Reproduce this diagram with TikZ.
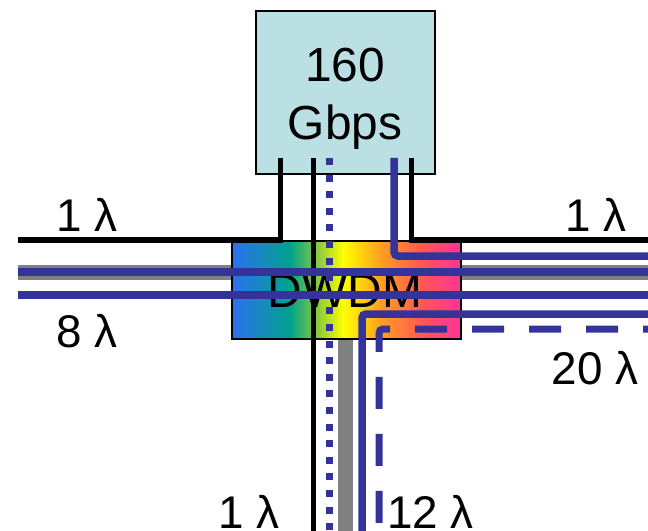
\documentclass[tikz,border=0pt]{standalone}
\usepackage{fontspec}
\setmainfont{Liberation Sans}
\definecolor{fblue}{HTML}{333399}
\definecolor{fgray}{HTML}{808080}
\definecolor{boxcyan}{HTML}{BBE0E3}
\definecolor{g1}{HTML}{2E6FF2}
\definecolor{g2}{HTML}{00A38C}
\definecolor{g3}{HTML}{8CCB3C}
\definecolor{g4}{HTML}{FFFF00}
\definecolor{g5}{HTML}{FFA020}
\definecolor{g6}{HTML}{FF5A50}
\definecolor{g7}{HTML}{FF3399}
\begin{document}
\begin{tikzpicture}[x=1bp,y=-1bp,
  blk/.style={line width=5bp, black},
  bl/.style={line width=7.5bp, fblue},
  gr/.style={line width=15bp, fgray},
  dotl/.style={line width=7bp, fblue, dash pattern=on 7bp off 9.6bp},
  dashl/.style={line width=7bp, fblue, dash pattern=on 32bp off 25bp, dash phase=27bp},
  lbl/.style={font=\fontsize{46}{50}\selectfont, anchor=base, inner sep=0pt},
  boxstyle/.style={draw, line width=2bp, inner sep=0pt, anchor=north west}]
\useasboundingbox (0,0) rectangle (648,531);
% end coordinates
\coordinate (gL) at (18,272);
\coordinate (gR) at (648,272);
\coordinate (gB) at (345,531);
\coordinate (gT) at (345,300);
% gray fibres
\draw[gr] (gL) -- (gR);
\draw[gr] (gT) -- (gB);
% DWDM box gradient
\shade[left color=g1, right color=g2] (231,240) rectangle (290.5,338);
\shade[left color=g2, right color=g3] (290,240) rectangle (318.5,338);
\shade[left color=g3, right color=g4] (318,240) rectangle (343.5,338);
\shade[left color=g4, right color=g5] (343,240) rectangle (380.5,338);
\shade[left color=g5, right color=g6] (380,240) rectangle (420.5,338);
\shade[left color=g6, right color=g7] (420,240) rectangle (460,338);
\node[boxstyle, minimum width=229bp, minimum height=98bp] (dwdm) at (231,240) {};
\node[lbl, font=\fontsize{48}{52}\selectfont] (dwdmtxt) at (345,307) {DWDM};
% 160 Gbps box
\node[boxstyle, fill=boxcyan, minimum width=179bp, minimum height=163bp] (gbps) at (255,10) {};
\node[lbl, font=\fontsize{48}{52}\selectfont] (t160) at (345,82) {160};
\node[lbl, font=\fontsize{48}{52}\selectfont] (tgbps) at (345,140) {Gbps};
% coordinates for connectors
\coordinate (aL) at (280,158);
\coordinate (aR) at (411,158);
\coordinate (aM) at (313,158);
\coordinate (aD) at (329,158);
\coordinate (aB) at (394,158);
\coordinate (eL1) at (18,240);
\coordinate (eR1) at (648,240);
\coordinate (eMB) at (313,531);
\coordinate (eDB) at (329,531);
\coordinate (eR2) at (648,256);
\coordinate (eL3) at (18,272);
\coordinate (eR3) at (648,272);
\coordinate (eL4) at (18,295);
\coordinate (eR4) at (648,295);
\coordinate (eR5) at (648,314);
\coordinate (eB5) at (362,531);
\coordinate (eR6) at (648,329);
\coordinate (eB6) at (379,531);
% black fibres
\draw[blk] (eL1) -- (280,240) -- (aL);
\draw[blk] (aR) -- (411,240) -- (eR1);
\draw[blk] (aM) -- (eMB);
% blue fibres
\draw[dotl] (aD) -- (eDB);
\draw[bl, rounded corners=4bp] (aB) -- (394,256) -- (eR2);
\draw[bl] (eL3) -- (eR3);
\draw[bl] (eL4) -- (eR4);
\draw[bl, rounded corners=4bp] (eR5) -- (362,314) -- (eB5);
\draw[dashl, rounded corners=4bp] (eR6) -- (379,329) -- (eB6);
% labels
\node[lbl] (l1) at (87,232) {1 λ};
\node[lbl] (l8) at (87,347) {8 λ};
\node[lbl] (r1) at (596,232) {1 λ};
\node[lbl] (r20) at (595,384) {20 λ};
\node[lbl] (b1) at (249,528) {1 λ};
\node[lbl, anchor=base west] (b12) at (387,528) {12 λ};
\end{tikzpicture}
\end{document}
